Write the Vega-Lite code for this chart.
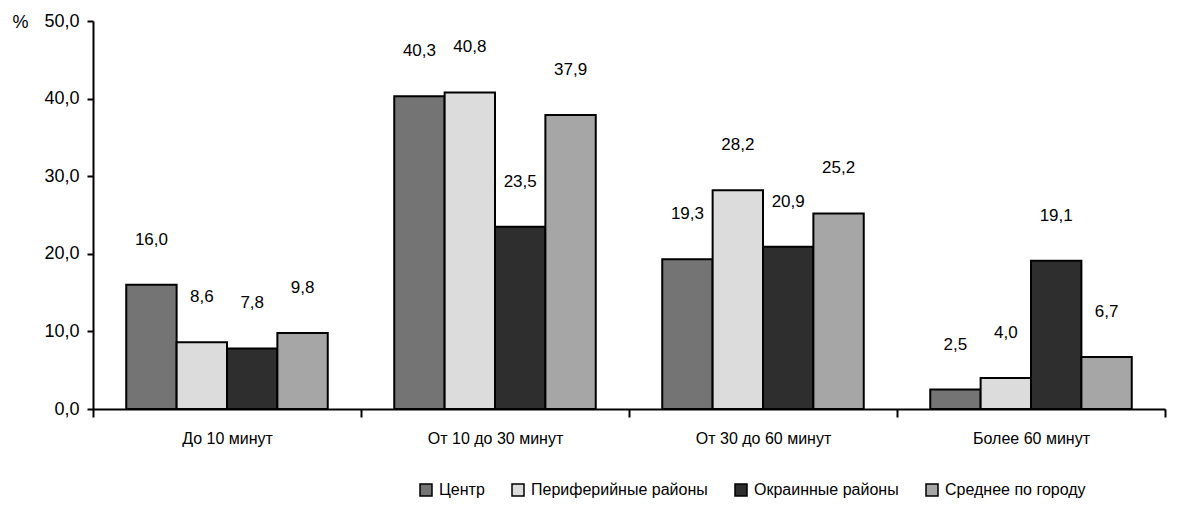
{
  "$schema": "https://vega.github.io/schema/vega-lite/v6.json",
  "width": 1072,
  "height": 388,
  "autosize": {"type": "none"},
  "padding": {"left": 93, "top": 21, "right": 17, "bottom": 96},
  "background": "white",
  "config": {
    "locale": {"number": {"decimal": ",", "thousands": " ", "grouping": [3], "currency": ["", ""]}},
    "font": "Liberation Sans, Arial",
    "view": {"stroke": null}
  },
  "data": {
    "values": [
      {"time": "До 10 минут", "area": "Центр", "value": 16.0},
      {"time": "До 10 минут", "area": "Периферийные районы", "value": 8.6},
      {"time": "До 10 минут", "area": "Окраинные районы", "value": 7.8},
      {"time": "До 10 минут", "area": "Среднее по городу", "value": 9.8},
      {"time": "От 10 до 30 минут", "area": "Центр", "value": 40.3},
      {"time": "От 10 до 30 минут", "area": "Периферийные районы", "value": 40.8},
      {"time": "От 10 до 30 минут", "area": "Окраинные районы", "value": 23.5},
      {"time": "От 10 до 30 минут", "area": "Среднее по городу", "value": 37.9},
      {"time": "От 30 до 60 минут", "area": "Центр", "value": 19.3},
      {"time": "От 30 до 60 минут", "area": "Периферийные районы", "value": 28.2},
      {"time": "От 30 до 60 минут", "area": "Окраинные районы", "value": 20.9},
      {"time": "От 30 до 60 минут", "area": "Среднее по городу", "value": 25.2},
      {"time": "Более 60 минут", "area": "Центр", "value": 2.5},
      {"time": "Более 60 минут", "area": "Периферийные районы", "value": 4.0},
      {"time": "Более 60 минут", "area": "Окраинные районы", "value": 19.1},
      {"time": "Более 60 минут", "area": "Среднее по городу", "value": 6.7}
    ]
  },
  "encoding": {
    "x": {
      "field": "time",
      "type": "nominal",
      "sort": ["До 10 минут", "От 10 до 30 минут", "От 30 до 60 минут", "Более 60 минут"],
      "scale": {"paddingInner": 0, "paddingOuter": 0},
      "axis": {
        "title": null,
        "labelAngle": 0,
        "labelFontSize": 16,
        "labelColor": "black",
        "labelPadding": 13,
        "tickBand": "extent",
        "tickSize": 8,
        "tickWidth": 2,
        "tickColor": "black",
        "domainColor": "black",
        "domainWidth": 2
      }
    },
    "xOffset": {
      "field": "area",
      "type": "nominal",
      "sort": ["Центр", "Периферийные районы", "Окраинные районы", "Среднее по городу"],
      "scale": {"paddingOuter": 0.66, "paddingInner": 0}
    },
    "y": {
      "field": "value",
      "type": "quantitative",
      "scale": {"domain": [0, 50], "nice": false},
      "axis": {
        "title": "%",
        "titleAngle": 0,
        "titleX": -81,
        "titleY": 1,
        "titleAlign": "left",
        "titleBaseline": "middle",
        "titleFontSize": 18,
        "titleFontWeight": "normal",
        "titleColor": "black",
        "values": [0, 10, 20, 30, 40, 50],
        "format": ".1f",
        "grid": false,
        "labelFontSize": 18,
        "labelColor": "black",
        "labelPadding": 8,
        "tickSize": 6,
        "tickWidth": 2,
        "tickColor": "black",
        "domainColor": "black",
        "domainWidth": 2
      }
    }
  },
  "layer": [
    {
      "mark": {"type": "bar", "stroke": "black", "strokeWidth": 2},
      "encoding": {
        "color": {
          "field": "area",
          "type": "nominal",
          "sort": ["Центр", "Периферийные районы", "Окраинные районы", "Среднее по городу"],
          "scale": {
            "domain": ["Центр", "Периферийные районы", "Окраинные районы", "Среднее по городу"],
            "range": ["#747474", "#dcdcdc", "#2e2e2e", "#a6a6a6"]
          },
          "legend": {
            "title": null,
            "orient": "none",
            "direction": "horizontal",
            "legendX": 325,
            "legendY": 461,
            "symbolType": "square",
            "symbolSize": 144,
            "symbolStrokeColor": "black",
            "symbolStrokeWidth": 1.5,
            "labelFontSize": 16,
            "labelColor": "black",
            "labelLimit": 400,
            "labelOffset": 5,
            "columnPadding": 24
          }
        }
      }
    },
    {
      "mark": {"type": "text", "dy": -45, "fontSize": 17, "color": "black", "baseline": "middle"},
      "encoding": {
        "text": {"field": "value", "type": "quantitative", "format": ".1f"}
      }
    }
  ]
}
